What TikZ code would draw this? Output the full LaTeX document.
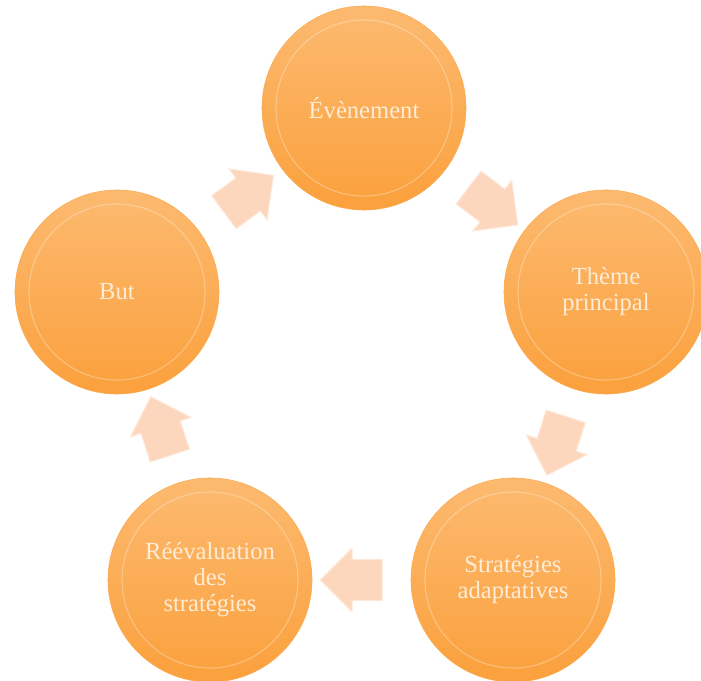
\documentclass[tikz,border=0pt]{standalone}
\usepackage{fontspec}
\setmainfont{Liberation Serif}
\usetikzlibrary{shapes.arrows, calc}
\definecolor{discfill}{RGB}{251,170,80}
\definecolor{disctop}{RGB}{252,186,112}
\definecolor{discbot}{RGB}{251,160,60}
\definecolor{disctext}{RGB}{254,236,214}
\definecolor{arrfill}{RGB}{253,214,190}
\definecolor{arredge}{RGB}{254,232,216}
\tikzstyle{disc} = [circle, minimum size=5.1cm, inner sep=0pt, align=center, top color=disctop, bottom color=discbot, draw=discfill, text=disctext, font=\fontsize{17.5}{18.5}\selectfont]
\tikzstyle{cycarrow} = [single arrow, draw=arredge, fill=arrfill, thick, minimum height=1.38cm, inner sep=0.5cm, single arrow head extend=0.28cm]

\begin{document}
\begin{tikzpicture}[x=0.025cm, y=-0.025cm]
		\useasboundingbox (0,0) rectangle (701,681);
		\node (event) [disc] at (364,108) {Évènement};
		\node (theme) [disc] at (606,292) {Thème\\principal};
		\node (strat) [disc] at (513,580) {Stratégies\\adaptatives};
		\node (reeval) [disc] at (210,580) {Réévaluation\\des\\stratégies};
		\node (but) [disc] at (117,292) {But};
		
		% reflets
		\foreach \n in {event, theme, strat, reeval, but}
			\draw[white, opacity=0.3, line width=0.8pt] (\n.center) circle (88);
		
		\node (a1) [cycarrow, rotate=36.7] at ($(but)!0.5!(event)$) {};
		\node (a2) [cycarrow, rotate=-37.2] at ($(event)!0.5!(theme)$) {};
		\node (a3) [cycarrow, rotate=-107.9] at ($(theme)!0.5!(strat)$) {};
		\node (a4) [cycarrow, rotate=180] at ($(strat)!0.5!(reeval)$) {};
		\node (a5) [cycarrow, rotate=107.9] at ($(reeval)!0.5!(but)$) {};
	\end{tikzpicture}
\end{document}
